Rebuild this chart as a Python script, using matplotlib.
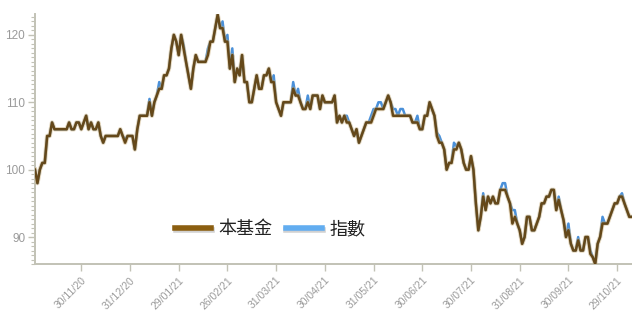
import matplotlib

matplotlib.use("Agg")
import matplotlib.pyplot as plt
import matplotlib.patheffects as pe
from matplotlib.lines import Line2D
from matplotlib.ticker import MultipleLocator

# daily values (rebased), one per trading day
fund = [
    100, 98, 100, 101, 101, 105, 105, 107, 106, 106,
    106, 106, 106, 106, 107, 106, 106, 107, 107, 106,
    107, 108, 106, 107, 106, 106, 107, 105, 104, 105,
    105, 105, 105, 105, 105, 106, 105, 104, 105, 105,
    105, 103, 106, 108, 108, 108, 108, 110, 108, 110,
    111, 112, 112, 114, 114, 115, 118, 120, 119, 117,
    120, 118, 116, 114, 112, 115, 117, 116, 116, 116,
    116, 117, 119, 119, 121, 123, 121, 121, 119, 119,
    115, 117, 113, 115, 114, 117, 113, 113, 110, 110,
    112, 114, 112, 112, 114, 114, 115, 113, 113, 110,
    109, 108, 110, 110, 110, 110, 112, 111, 111, 110,
    109, 109, 110, 109, 111, 111, 111, 109, 111, 110,
    110, 110, 110, 111, 107, 108, 107, 108, 107, 107,
    106, 105, 106, 104, 105, 106, 107, 107, 107, 108,
    109, 109, 109, 109, 110, 111, 110, 108, 108, 108,
    108, 108, 108, 108, 108, 107, 107, 107, 106, 106,
    108, 108, 110, 109, 108, 105, 104, 104, 103, 100,
    101, 101, 103, 103, 104, 103, 101, 100, 100, 102,
    100, 95, 91, 93, 96, 94, 96, 95, 96, 95,
    95, 97, 97, 97, 96, 95, 92, 93, 92, 91,
    89, 90, 93, 93, 91, 91, 92, 93, 95, 95,
    96, 96, 97, 97, 94, 95.5, 94, 92.5, 90, 91,
    89, 88, 88, 89.5, 88, 88, 90, 90, 87.5, 87,
    86, 89, 90, 92, 92, 92, 93, 94, 95, 95,
    96, 96, 95, 94, 93, 93,
]

index = [
    100, 98, 100, 101, 101, 105, 105, 107, 106, 106,
    106, 106, 106, 106, 107, 106, 106, 107, 107, 106,
    107, 108, 106, 107, 106, 106, 107, 105, 104, 105,
    105, 105, 105, 105, 105, 106, 105, 104.5, 105, 105,
    105, 103, 106, 108, 108, 108, 108, 110.5, 108, 110,
    111, 113, 112, 114, 114, 115, 118, 120, 119, 117,
    120, 118.5, 116, 114, 112, 115, 117, 116, 116, 116,
    116, 118, 119, 119, 121, 123, 121, 122, 119, 120,
    115, 118, 113, 115, 114, 117, 113, 113, 110, 110,
    112, 114, 112, 112, 114, 114, 115, 113, 114, 110,
    109, 108, 110, 110, 110, 110, 113, 111, 112, 110,
    109, 109, 111, 109, 111, 111, 111, 109, 111, 110,
    110, 110, 110, 111, 107, 108, 107, 108, 108, 107,
    106, 105, 106, 104, 105, 106, 107, 107, 108, 109,
    109, 110, 110, 109, 110, 111, 110, 109, 109, 108,
    109, 109, 108, 108, 108, 107, 107, 108, 106, 106,
    108, 108, 110, 109, 108, 105.5, 105, 104, 103, 100,
    101, 101, 104, 103.5, 104, 103, 101, 100, 100, 102,
    100, 95, 91, 93, 96.5, 94, 96, 95, 96, 95,
    95, 97, 98, 98, 96, 95, 94, 94, 92, 91,
    89, 90, 93, 93, 91, 91, 92, 93, 95, 95,
    96, 96, 97, 97, 94, 96, 94, 92.5, 90, 92,
    89, 88, 88, 90, 88, 88, 90, 90, 88, 87,
    86, 89, 90, 93, 92, 92, 93, 94, 95, 95,
    96, 96.5, 95, 94, 93, 93,
]

tick_labels = [
    "30/11/20", "31/12/20", "29/01/21", "26/02/21", "31/03/21", "30/04/21",
    "31/05/21", "30/06/21", "30/07/21", "31/08/21", "30/09/21", "29/10/21",
]
series_names = ["本基金", "指數"]

FUND_COLOR = "#654819"
FUND_LEGEND = "#8b5e10"
INDEX_COLOR = "#4a90d9"
INDEX_LEGEND = "#62adf0"
AXIS_COLOR = "#c2c2b6"
LABEL_COLOR = "#9a9a9a"

fig = plt.figure(figsize=(6.32, 3.14), dpi=100)
ax = fig.add_axes([35 / 632, 50 / 314, 597 / 632, 250 / 314])

days = list(range(len(fund)))
glow = [pe.Stroke(linewidth=3.2, foreground="#c8a970", alpha=0.45), pe.Normal()]
ax.plot(days, index, color=INDEX_COLOR, linewidth=1.8, solid_joinstyle="round",
        zorder=2)
ax.plot(days, fund, color=FUND_COLOR, linewidth=1.8, solid_joinstyle="round",
        path_effects=glow, zorder=3)

ax.set_xlim(0, len(fund) - 0.9)
ax.set_ylim(86, 123.1)

for side in ("top", "right"):
    ax.spines[side].set_visible(False)
for side in ("left", "bottom"):
    ax.spines[side].set_color(AXIS_COLOR)
    ax.spines[side].set_linewidth(1.4)

ax.set_yticks([90, 100, 110, 120])
ax.yaxis.set_minor_locator(MultipleLocator(10 / 15))
ax.tick_params(axis="y", which="major", length=5, width=1, color=AXIS_COLOR,
               labelcolor=LABEL_COLOR, labelsize=8.5, pad=2)
ax.tick_params(axis="y", which="minor", length=3, width=0.8, color=AXIS_COLOR)

tick_pos = [19 + 20 * k for k in range(len(tick_labels))]
ax.set_xticks(tick_pos)
ax.set_xticklabels(tick_labels, rotation=45, ha="right", va="top",
                   rotation_mode="anchor")
ax.tick_params(axis="x", length=5, width=1, color=AXIS_COLOR,
               labelcolor=LABEL_COLOR, labelsize=7.5, pad=3)
for lab in ax.get_xticklabels() + ax.get_yticklabels():
    lab.set_family("Liberation Sans")

leg_shadow = [pe.SimpleLineShadow(offset=(0.5, -2.0), shadow_color="#000000",
                                  alpha=0.18, linewidth=4), pe.Normal()]
handles = [
    Line2D([], [], color=FUND_LEGEND, linewidth=4, path_effects=leg_shadow),
    Line2D([], [], color=INDEX_LEGEND, linewidth=4, path_effects=leg_shadow),
]
leg = fig.legend(handles, series_names, loc="center",
                 bbox_to_anchor=(270 / 632, 1 - 229 / 314),
                 ncol=2, frameon=False, handlelength=2.0, handletextpad=0.4,
                 columnspacing=0.75,
                 prop={"family": ["Noto Sans CJK TC", "DejaVu Sans"], "size": 13})
for t in leg.get_texts():
    t.set_color("#222222")

fig.savefig("out.png", dpi=100)
